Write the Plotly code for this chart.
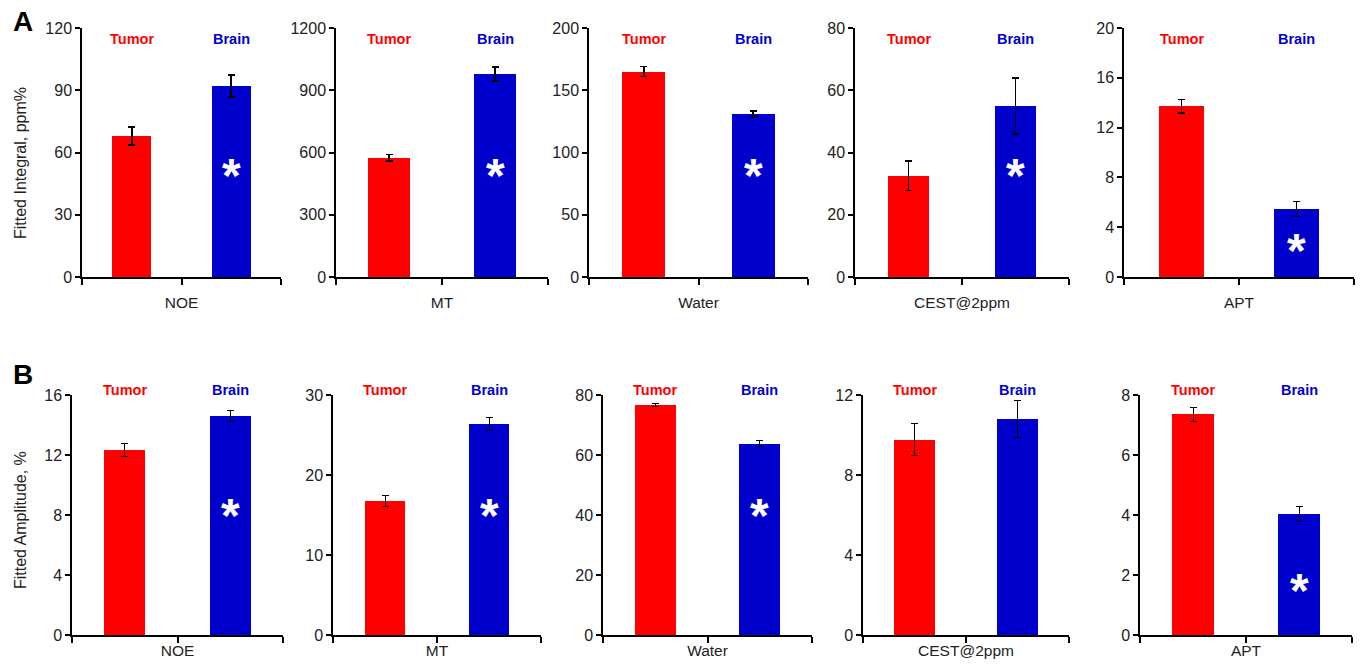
import plotly.graph_objects as go

# ---------------- data ----------------
groups = ["Tumor", "Brain"]
panels = ["NOE", "MT", "Water", "CEST@2ppm", "APT"]

integral_tumor = [68, 575, 165, 32.5, 13.7]
integral_tumor_err = [4.3, 15, 4, 4.7, 0.55]
integral_brain = [92, 978, 131, 55, 5.45]
integral_brain_err = [5.3, 33, 2.5, 9, 0.6]
integral_ymax = [120, 1200, 200, 80, 20]
integral_dtick = [30, 300, 50, 20, 4]
integral_sig = [True, True, True, True, True]

amp_tumor = [12.35, 16.8, 76.7, 9.77, 7.36]
amp_tumor_err = [0.43, 0.7, 0.4, 0.8, 0.23]
amp_brain = [14.6, 26.4, 63.8, 10.8, 4.02]
amp_brain_err = [0.38, 0.8, 1.0, 0.93, 0.25]
amp_ymax = [16, 30, 80, 12, 8]
amp_dtick = [4, 10, 20, 4, 2]
amp_sig = [True, True, True, False, True]

# ---------------- layout helpers ----------------
W, H = 1363, 665
RED = "#FF0000"
BLUE = "#0000CC"
FONT = "Arial, Liberation Sans, sans-serif"

rowA_px = (28, 277)
rowB_px = (395, 635)
rowA_x = [(82, 281), (336, 548), (589, 808), (855, 1069), (1124, 1354)]
rowB_x = [(72, 283), (333, 541), (603, 812), (863, 1069), (1140, 1352)]
# asterisk vertical position as fraction of y domain
starA = [0.44, 0.44, 0.44, 0.44, 0.14]
starB = [0.53, 0.53, 0.53, 0.53, 0.217]

fig = go.Figure()
layout = {}
annotations = []

rows = [
    dict(t=integral_tumor, te=integral_tumor_err, b=integral_brain, be=integral_brain_err,
         ymax=integral_ymax, dt=integral_dtick, sig=integral_sig, ypx=rowA_px, xpx=rowA_x,
         star=starA, lab_y=0.956, standoff=5, ethick=1.6, title="Fitted Integral, ppm%",
         title_y=163, letter="A", letter_y=22),
    dict(t=amp_tumor, te=amp_tumor_err, b=amp_brain, be=amp_brain_err,
         ymax=amp_ymax, dt=amp_dtick, sig=amp_sig, ypx=rowB_px, xpx=rowB_x,
         star=starB, lab_y=1.021, standoff=-5, ethick=1.0, title="Fitted Amplitude, %",
         title_y=520, letter="B", letter_y=374),
]

k = 0
for r in rows:
    y0, y1 = r["ypx"]
    ydom = [1 - y1 / H, 1 - y0 / H]
    for i, name in enumerate(panels):
        k += 1
        xs = "" if k == 1 else str(k)
        xa, ya = "x" + xs, "y" + xs
        x0, x1 = r["xpx"][i]
        for gi, (val, err, col) in enumerate([(r["t"][i], r["te"][i], RED),
                                               (r["b"][i], r["be"][i], BLUE)]):
            fig.add_trace(go.Bar(
                x=[gi], y=[val], width=0.39, marker=dict(color=col, line=dict(width=0)),
                error_y=dict(type="data", array=[err], visible=True, color="black",
                             thickness=r["ethick"], width=3.5),
                xaxis=xa, yaxis=ya, showlegend=False, hoverinfo="skip",
            ))
        layout["xaxis" + xs] = dict(
            domain=[x0 / W, x1 / W], range=[-0.5, 1.5], anchor=ya, automargin=False,
            tickmode="array", tickvals=[-0.5, 0.5, 1.5], ticktext=["", name, ""],
            ticks="outside", ticklen=6, tickwidth=1.5, tickcolor="black",
            showline=True, linecolor="black", linewidth=1.5, showgrid=False,
            zeroline=False, fixedrange=True, ticklabelstandoff=r["standoff"],
            tickfont=dict(family=FONT, size=15.5, color="#222"),
        )
        layout["yaxis" + xs] = dict(
            domain=ydom, range=[0, r["ymax"][i]], anchor=xa, dtick=r["dt"][i], tick0=0,
            automargin=False,
            ticks="outside", ticklen=5, tickwidth=1.5, tickcolor="black",
            showline=True, linecolor="black", linewidth=1.5, showgrid=False,
            zeroline=False, fixedrange=True,
            tickfont=dict(family=FONT, size=16, color="#222"),
        )
        for gi, (g, col) in enumerate(zip(groups, [RED, BLUE])):
            annotations.append(dict(
                x=gi, y=r["lab_y"], xref=xa, yref=ya + " domain", text="<b>" + g + "</b>",
                showarrow=False, font=dict(family=FONT, size=14.5, color=col),
                xanchor="center", yanchor="middle",
            ))
        if r["sig"][i]:
            annotations.append(dict(
                x=1, y=r["star"][i], xref=xa, yref=ya + " domain", text="<b>*</b>",
                showarrow=False, font=dict(family=FONT, size=48, color="white"),
                xanchor="center", yanchor="middle", yshift=-8,
            ))
    annotations.append(dict(
        x=20 / W, y=1 - r["title_y"] / H, xref="paper", yref="paper", text=r["title"],
        textangle=-90, showarrow=False, font=dict(family=FONT, size=16, color="#222"),
        xanchor="center", yanchor="middle",
    ))
    annotations.append(dict(
        x=23 / W, y=1 - r["letter_y"] / H, xref="paper", yref="paper",
        text="<b>" + r["letter"] + "</b>", showarrow=False,
        font=dict(family=FONT, size=28, color="black"), xanchor="center", yanchor="middle",
    ))

fig.update_layout(
    width=W, height=H, margin=dict(l=0, r=0, t=0, b=0, autoexpand=False),
    plot_bgcolor="white", paper_bgcolor="white", hovermode=False,
    annotations=annotations, bargap=0, **layout,
)
fig.write_html("out.html", config={"displayModeBar": False},
               post_script="document.body.style.margin='0';")
